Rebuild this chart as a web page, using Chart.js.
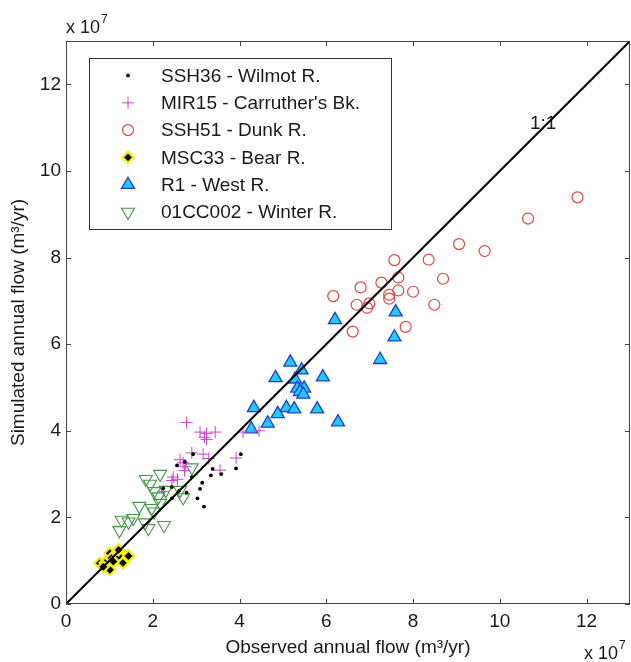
<!DOCTYPE html>
<html>
<head>
<meta charset="utf-8">
<script src="https://cdn.jsdelivr.net/npm/chart.js@4.4.1/dist/chart.umd.min.js"></script>
<style>
  html, body { margin: 0; padding: 0; background: #fff; }
</style>
</head>
<body>
<canvas id="flowChart" width="631" height="662"></canvas>
<script>
// observed (x) vs simulated (y) annual flow, in units of 1e7 m3/yr
const wilmotObs = [2.93, 2.56, 2.74, 4.03, 3.92, 3.38, 3.34, 3.58, 2.90, 3.14, 2.44, 3.09, 2.24, 2.78, 3.03, 2.44, 3.18, 2.61];
const wilmotSim = [3.46, 3.20, 3.28, 3.46, 3.13, 3.12, 2.97, 3.00, 2.93, 2.80, 2.70, 2.66, 2.67, 2.57, 2.44, 2.44, 2.25, 2.62];

const carruthersObs = [2.78, 3.09, 3.24, 3.44, 3.19, 3.24, 2.90, 3.16, 3.29, 3.92, 2.70, 2.76, 3.55, 2.73, 2.47, 2.57, 2.44, 2.24, 4.08, 4.45, 2.63];
const carruthersSim = [4.19, 3.97, 3.94, 3.97, 3.85, 3.80, 3.49, 3.46, 3.36, 3.37, 3.26, 3.17, 3.09, 3.08, 2.93, 2.88, 2.85, 2.60, 3.97, 4.00, 3.33];

const dunkObs = [11.79, 10.65, 9.06, 9.65, 7.57, 8.36, 7.66, 8.69, 7.27, 6.79, 6.16, 7.66, 8.00, 7.45, 7.45, 6.70, 6.99, 6.94, 8.49, 7.83, 6.61];
const dunkSim = [9.39, 8.90, 8.31, 8.15, 7.94, 7.95, 7.54, 7.51, 7.42, 7.31, 7.11, 7.24, 7.21, 7.14, 7.05, 6.91, 6.94, 6.84, 6.91, 6.40, 6.29];

const bearObs = [0.78, 0.90, 1.01, 1.05, 1.21, 1.24, 1.44, 1.31, 1.01, 0.86, 1.09, 1.21];
const bearSim = [0.94, 0.95, 1.17, 1.06, 1.21, 1.09, 1.11, 0.95, 0.79, 0.86, 0.98, 1.25];

const westObs = [6.20, 7.60, 7.57, 7.24, 5.17, 5.43, 4.83, 5.92, 5.28, 5.33, 5.49, 5.39, 5.47, 4.33, 5.08, 5.26, 5.79, 4.88, 4.65, 6.27, 4.27];
const westSim = [6.56, 6.74, 6.16, 5.64, 5.58, 5.40, 5.22, 5.24, 5.19, 4.98, 4.98, 4.90, 4.84, 4.53, 4.53, 4.50, 4.50, 4.39, 4.17, 4.20, 4.04];

const winterObs = [2.17, 1.84, 1.94, 2.03, 2.13, 1.69, 1.97, 2.03, 2.17, 2.63, 2.70, 1.55, 1.28, 1.44, 1.82, 1.23, 1.90, 2.26, 2.90, 2.30];
const winterSim = [3.00, 2.88, 2.77, 2.60, 2.48, 2.26, 2.21, 2.13, 2.33, 2.63, 2.46, 1.98, 1.94, 1.90, 1.88, 1.70, 1.75, 1.82, 3.15, 2.63];

const seriesLabels = ['SSH36 - Wilmot R.', "MIR15 - Carruther's Bk.", 'SSH51 - Dunk R.', 'MSC33 - Bear R.', 'R1 - West R.', '01CC002 - Winter R.'];
const xTicks = [0, 2, 4, 6, 8, 10, 12];
const yTicks = [0, 2, 4, 6, 8, 10, 12];
const axisMax = 13;
const oneToOne = [0, 13];

const FONT = "'Liberation Sans', Arial, sans-serif";
const TEXT = '#1a1a1a';
const AXIS = '#444';

const pts = (xs, ys) => xs.map((v, i) => ({ x: v, y: ys[i] }));

const scatterSets = [
  { label: seriesLabels[0], data: pts(wilmotObs, wilmotSim), pointStyle: 'circle', pointRadius: 1.9,
    backgroundColor: '#000', borderColor: '#000', pointBorderWidth: 0 },
  { label: seriesLabels[1], data: pts(carruthersObs, carruthersSim), pointStyle: 'cross', pointRadius: 6,
    backgroundColor: 'transparent', borderColor: '#d040d0', pointBorderWidth: 1 },
  { label: seriesLabels[2], data: pts(dunkObs, dunkSim), pointStyle: 'circle', pointRadius: 5.5,
    backgroundColor: 'transparent', borderColor: '#e8453f', pointBorderWidth: 1.2 },
  { label: seriesLabels[3], data: pts(bearObs, bearSim), pointStyle: 'rectRot', pointRadius: 5.5,
    backgroundColor: '#000', borderColor: '#f4f000', pointBorderWidth: 2.2 },
  { label: seriesLabels[4], data: pts(westObs, westSim), pointStyle: 'triangle', pointRadius: 7.5,
    backgroundColor: '#1fcbff', borderColor: '#1f3fd0', pointBorderWidth: 1.3 },
  { label: seriesLabels[5], data: pts(winterObs, winterSim), pointStyle: 'triangle', pointRotation: 180, pointRadius: 7.5,
    backgroundColor: 'transparent', borderColor: '#3f9a3f', pointBorderWidth: 1.1 }
].map(d => Object.assign({ type: 'scatter', order: 1 }, d));

const lineSet = {
  type: 'line', label: '1:1', order: 0,
  data: oneToOne.map(v => ({ x: v, y: v })),
  borderColor: '#000', borderWidth: 2, pointRadius: 0, fill: false
};

// box, inward ticks, legend, 1:1 label and x10^7 multipliers
const framePlugin = {
  id: 'frame',
  afterDraw(chart) {
    const { ctx, chartArea: a, scales: { x, y } } = chart;
    ctx.save();
    ctx.strokeStyle = AXIS;
    ctx.lineWidth = 1;
    ctx.strokeRect(a.left + 0.5, a.top + 0.5, a.right - a.left - 1, a.bottom - a.top - 1);
    ctx.beginPath();
    xTicks.forEach(v => {
      const px = Math.round(x.getPixelForValue(v)) + 0.5;
      ctx.moveTo(px, a.bottom); ctx.lineTo(px, a.bottom - 5);
      ctx.moveTo(px, a.top); ctx.lineTo(px, a.top + 5);
    });
    yTicks.forEach(v => {
      const py = Math.round(y.getPixelForValue(v)) + 0.5;
      ctx.moveTo(a.left, py); ctx.lineTo(a.left + 5, py);
      ctx.moveTo(a.right, py); ctx.lineTo(a.right - 5, py);
    });
    ctx.stroke();

    // legend
    const lx = a.left + 23, ly = a.top + 17, lw = 302, rowH = 27.3;
    ctx.fillStyle = '#fff';
    ctx.fillRect(lx, ly, lw, 171);
    ctx.strokeStyle = '#333';
    ctx.strokeRect(lx + 0.5, ly + 0.5, lw, 171);
    ctx.font = '19px ' + FONT;
    ctx.textBaseline = 'middle';
    ctx.textAlign = 'left';
    scatterSets.forEach((d, i) => {
      const cy = ly + 17.5 + i * rowH;
      ctx.save();
      ctx.fillStyle = d.backgroundColor;
      ctx.strokeStyle = d.borderColor;
      ctx.lineWidth = d.pointBorderWidth;
      Chart.helpers.drawPoint(ctx, {
        pointStyle: d.pointStyle, radius: d.pointRadius,
        rotation: d.pointRotation || 0, borderWidth: d.pointBorderWidth
      }, lx + 39, cy);
      ctx.restore();
      ctx.fillStyle = TEXT;
      ctx.fillText(d.label, lx + 72, cy + 1);
    });

    // 1:1 label
    ctx.fillStyle = TEXT;
    ctx.textAlign = 'center';
    ctx.fillText('1:1', x.getPixelForValue(11.0), y.getPixelForValue(11.1));

    // exponent labels
    ctx.textAlign = 'left';
    ctx.textBaseline = 'alphabetic';
    const drawExp = (left, base) => {
      ctx.font = '18px ' + FONT;
      ctx.fillText('x 10', left, base);
      const w = ctx.measureText('x 10').width;
      ctx.font = '12px ' + FONT;
      ctx.fillText('7', left + w + 1, base - 10);
    };
    drawExp(a.left, a.top - 8);
    drawExp(a.right - 46, 659);
    ctx.restore();
  }
};

const tickFont = { family: FONT, size: 19 };

new Chart(document.getElementById('flowChart').getContext('2d'), {
  data: { datasets: [lineSet, ...scatterSets] },
  options: {
    responsive: false,
    animation: false,
    events: [],
    layout: { autoPadding: false, padding: { top: 41, right: 1, left: 0, bottom: 0 } },
    plugins: { legend: { display: false }, tooltip: { enabled: false } },
    scales: {
      x: {
        type: 'linear', min: 0, max: axisMax,
        afterBuildTicks: s => { s.ticks = xTicks.map(v => ({ value: v })); },
        afterFit: s => { s.height = 58; },
        grid: { display: false, drawTicks: false },
        border: { display: false },
        ticks: { padding: 6, color: TEXT, font: tickFont, maxRotation: 0, autoSkip: false },
        title: { display: true, text: 'Observed annual flow (m³/yr)', color: TEXT, font: tickFont, padding: { top: 0, bottom: 3 } }
      },
      y: {
        type: 'linear', min: 0, max: axisMax,
        afterBuildTicks: s => { s.ticks = yTicks.map(v => ({ value: v })); },
        afterFit: s => { s.width = 66; },
        grid: { display: false, drawTicks: false },
        border: { display: false },
        ticks: { padding: 5, color: TEXT, font: tickFont, autoSkip: false },
        title: { display: true, text: 'Simulated annual flow (m³/yr)', color: TEXT, font: tickFont, padding: { top: 7, bottom: 0 } }
      }
    }
  },
  plugins: [framePlugin]
});
</script>
</body>
</html>
